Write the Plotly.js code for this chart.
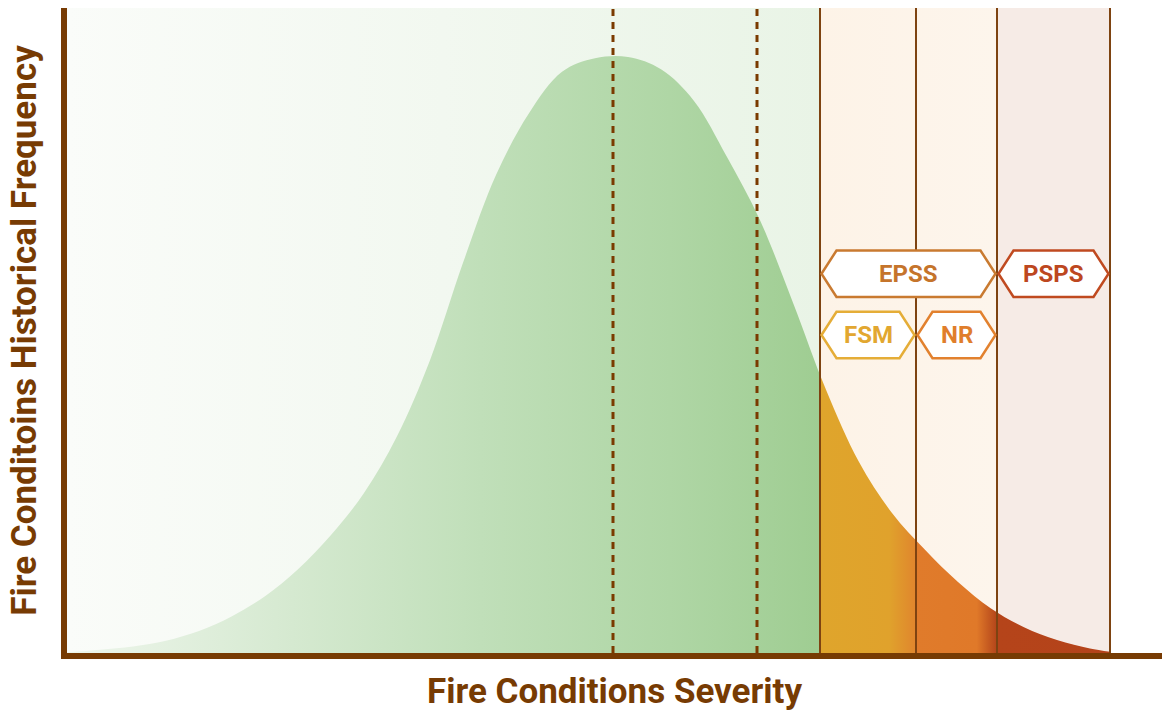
<!DOCTYPE html>
<html>
<head>
<meta charset="utf-8">
<script src="https://cdn.plot.ly/plotly-3.0.1.min.js"></script>
<style>
  html, body { margin: 0; padding: 0; background: #ffffff; }
  #chart { width: 1162px; height: 712px; }
</style>
</head>
<body>
<div id="chart"></div>
<script>
// ---- data ----
var severity  = [0, 3.3, 6.6, 9.9, 13.2, 16.5, 19.8, 23.1, 26.4, 29.7, 33.0, 36.3, 39.6, 42.9, 46.2, 49.5, 52.8, 56.1, 59.4, 62.7, 66.0, 69.3, 72.6, 75.9, 79.2, 82.5, 85.8, 89.1, 92.4, 95.7, 99.0, 102.3, 104.3];
var frequency = [0.1, 0.5, 1.0, 1.9, 3.4, 5.7, 8.8, 13.0, 18.3, 24.8, 33.6, 45.4, 60.5, 74.1, 83.7, 90.1, 92.2, 92.4, 90.5, 85.6, 76.9, 67.1, 54.3, 40.8, 29.6, 21.7, 16.0, 11.0, 6.9, 4.0, 2.0, 0.7, 0.2];

var dashedMarks = [54.6, 69.0];                 // dashed reference lines
var thresholds  = [75.3, 84.9, 93.0, 104.3];    // solid band boundaries

var programs    = ['EPSS', 'PSPS', 'FSM', 'NR'];
var programFrom = [75.3, 93.0, 75.3, 84.9];
var programTo   = [93.0, 104.3, 84.9, 93.0];
var programRow  = [58.8, 58.8, 49.3, 49.3];
var programLine = ['#c97a30', '#c04a20', '#e5ad37', '#e2812e'];
var programText = ['#c5742b', '#bd4720', '#e2a730', '#e07e2b'];

var brown = '#773b03';
var xMax = thresholds[thresholds.length - 1];
function f(v) { return v / xMax; }

// ---- background bands (one gradient rectangle) ----
var bg = {
  x: [0, xMax, xMax, 0, 0], y: [0, 0, 100, 100, 0],
  type: 'scatter', mode: 'none', fill: 'toself', hoverinfo: 'skip', showlegend: false,
  fillcolor: '#f3f8f1',
  fillgradient: {
    type: 'horizontal', start: 0, stop: xMax,
    colorscale: [
      [0, '#fafcf9'],
      [f(thresholds[0]) * 0.5, '#f2f8f0'],
      [f(thresholds[0]), '#e9f4e6'],
      [f(thresholds[0]), '#fdf3e7'],
      [f(thresholds[2]), '#fdf5ec'],
      [f(thresholds[2]), '#f6ebe6'],
      [1, '#f6ebe6']
    ]
  }
};

// ---- distribution curve, coloured by band ----
var t0 = f(thresholds[0]), t1 = f(thresholds[1]), t2 = f(thresholds[2]);
var curve = {
  x: severity, y: frequency,
  type: 'scatter', mode: 'lines', line: {width: 0, shape: 'spline', smoothing: 1.0},
  fill: 'tozeroy', hoverinfo: 'skip', showlegend: false,
  fillcolor: '#b0d7a6',
  fillgradient: {
    type: 'horizontal', start: 0, stop: xMax,
    colorscale: [
      [0, '#eef6ec'],
      [t0 * 0.3, '#d5e9d0'],
      [t0 * 0.55, '#c0dfb9'],
      [t0 * 0.8, '#afd6a5'],
      [t0, '#9fcd92'],
      [t0, '#dfa52c'],
      [t0 + (t1 - t0) * 0.72, '#e0a22c'],
      [t1, '#e0852d'],
      [t1, '#e07b2b'],
      [t1 + (t2 - t1) * 0.75, '#e07929'],
      [t2, '#b3441a'],
      [t2, '#b5441a'],
      [1, '#b4431a']
    ]
  }
};

// ---- shapes ----
var shapes = [];
thresholds.forEach(function (v) {
  shapes.push({type: 'line', xref: 'x', yref: 'y', x0: v, x1: v, y0: 0, y1: 100,
    line: {color: '#7e4311', width: 2}, layer: 'above'});
});
dashedMarks.forEach(function (v) {
  shapes.push({type: 'line', xref: 'x', yref: 'y', x0: v, x1: v, y0: 0, y1: 100,
    line: {color: '#7a3a00', width: 3, dash: '7px,6px'}, layer: 'above'});
});

var annotations = [];
var tip = 1.5, half = 3.6, inset = 0.15;
programs.forEach(function (name, i) {
  var a = programFrom[i] + inset, b = programTo[i] - inset, c = programRow[i];
  var path = 'M' + a + ',' + c +
    ' L' + (a + tip) + ',' + (c + half) +
    ' L' + (b - tip) + ',' + (c + half) +
    ' L' + b + ',' + c +
    ' L' + (b - tip) + ',' + (c - half) +
    ' L' + (a + tip) + ',' + (c - half) + ' Z';
  shapes.push({type: 'path', xref: 'x', yref: 'y', path: path,
    fillcolor: '#ffffff', line: {color: programLine[i], width: 2.5}, layer: 'above'});
  annotations.push({xref: 'x', yref: 'y', x: (a + b) / 2, y: c, text: name, showarrow: false,
    xanchor: 'center', yanchor: 'middle',
    font: {family: 'Roboto, Liberation Sans, sans-serif', size: 24, weight: 700, color: programText[i]}});
});

var titleFont = {family: 'Roboto, Liberation Sans, sans-serif', size: 35, weight: 700, color: brown};

var layout = {
  width: 1162, height: 712,
  margin: {l: 67, r: 0, t: 8, b: 59, pad: 0},
  paper_bgcolor: '#ffffff', plot_bgcolor: '#ffffff',
  showlegend: false,
  xaxis: {
    range: [0, 109.5], showgrid: false, zeroline: false, showticklabels: false, ticks: '',
    showline: true, linecolor: brown, linewidth: 6, fixedrange: true,
    title: {text: 'Fire Conditions Severity', font: titleFont, standoff: 25}
  },
  yaxis: {
    range: [0, 100], showgrid: false, zeroline: false, showticklabels: false, ticks: '',
    showline: true, linecolor: brown, linewidth: 6, fixedrange: true,
    title: {text: 'Fire Conditoins Historical Frequency', font: titleFont, standoff: 16}
  },
  shapes: shapes,
  annotations: annotations
};

Plotly.newPlot('chart', [bg, curve], layout, {staticPlot: true, displayModeBar: false});
</script>
</body>
</html>
